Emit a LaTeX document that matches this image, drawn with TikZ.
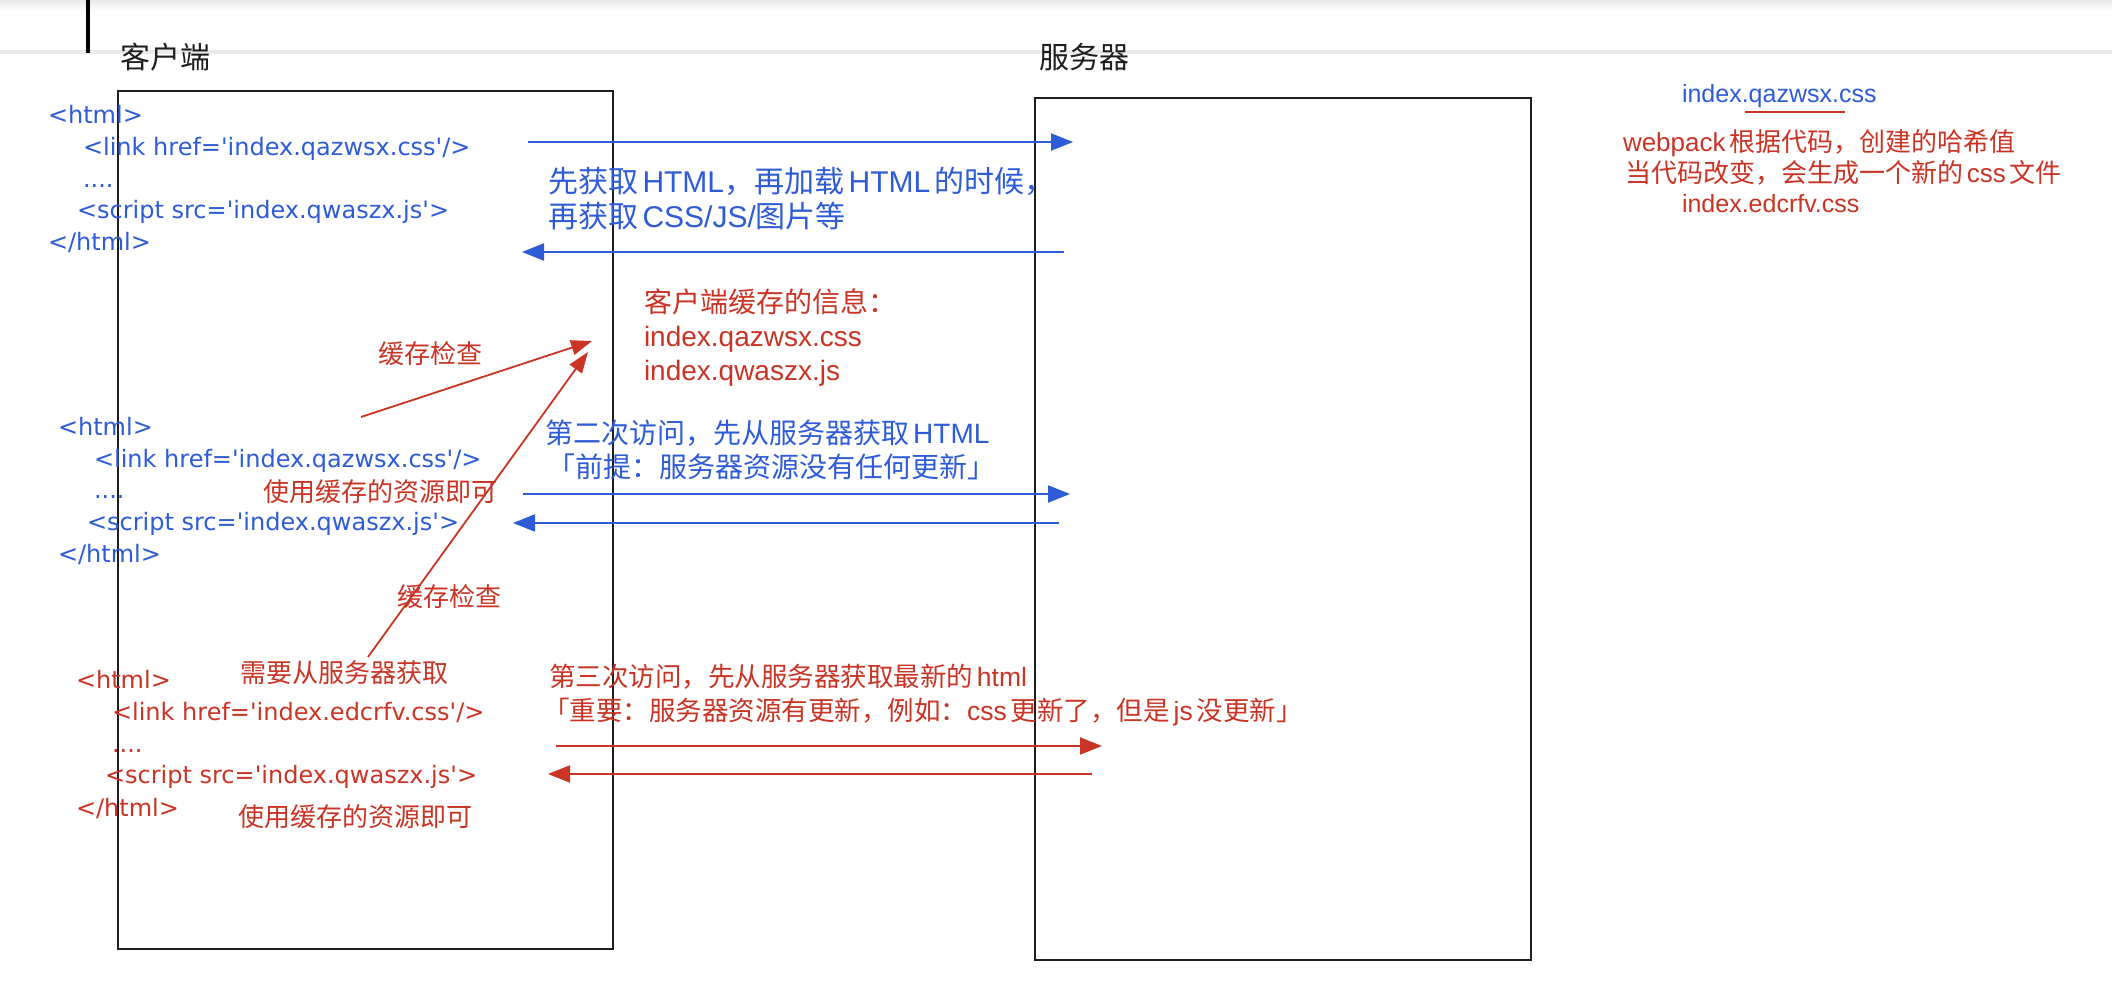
\documentclass[tikz,border=0pt]{standalone}
\usepackage{fontspec}
\setmainfont{Liberation Sans}
\newfontfamily\cjkfont{Noto Sans CJK SC}
\newfontfamily\codefont{DejaVu Sans}
\usetikzlibrary{arrows.meta}

\definecolor{ink}{RGB}{30,30,30}
\definecolor{netblue}{RGB}{46,92,214}
\definecolor{hashred}{RGB}{201,52,36}
\definecolor{rulegray}{RGB}{234,234,234}

\newcommand\zhs[1]{{\cjkfont #1}}
\newcommand\setfs[1]{\fontsize{#1bp}{#1bp}\selectfont}
\newcommand\jg{\hspace{0.15em}}

\begin{document}
\begin{tikzpicture}[x=1bp,y=-1bp,
  txt/.style={anchor=base west, inner sep=0pt, outer sep=0pt},
  title/.style={txt, text=ink, font=\cjkfont\setfs{30}},
  bluecode/.style={txt, text=netblue, font=\codefont\setfs{24}},
  redcode/.style={txt, text=hashred, font=\codefont\setfs{24}},
  panel/.style={draw=ink, line width=2bp, anchor=north west, inner sep=0pt},
  bluearrow/.style={draw=netblue, line width=2bp, -{Triangle[length=22bp,width=17bp]}},
  redarrow/.style={draw=hashred, line width=2bp, -{Triangle[length=22bp,width=17bp]}},
  checkarrow/.style={draw=hashred, line width=1.8bp, -{Triangle[length=21bp,width=15bp]}},
]
\useasboundingbox (0,0) rectangle (2112,982);
\fill[white] (0,0) rectangle (2112,982);

% window chrome along the top
\shade[top color=black!9, bottom color=white] (0,0) rectangle (2112,10);
\draw[rulegray, line width=3.5bp] (0,52) -- (2112,52);
\draw[black, line width=3.5bp] (88,0) -- (88,53);

% the two columns
\node[panel, minimum width=495bp, minimum height=858bp] (client) at (117,90) {};
\node[panel, minimum width=496bp, minimum height=862bp] (server) at (1034,97) {};
\node[title] (clientlbl) at (120,68) {客户端};
\node[title] (serverlbl) at (1039,68) {服务器};

% first visit
\node[bluecode] (h1a) at (48,123) {<html>};
\node[bluecode] (h1b) at (83,155) {<link href='index.qazwsx.css'/>};
\node[bluecode] (h1c) at (83,187) {....};
\node[bluecode] (h1d) at (77,218) {<script src='index.qwaszx.js'>};
\node[bluecode] (h1e) at (48,250) {</html>};

\coordinate (r1s) at (528,142);  \coordinate (r1e) at (1073,142);
\coordinate (l1s) at (1064,252); \coordinate (l1e) at (522,252);
\draw[bluearrow] (r1s) -- (r1e);
\draw[bluearrow] (l1s) -- (l1e);
\node[txt, text=netblue, font=\setfs{30}] (firstA) at (548,192)
  {\zhs{先获取}\jg HTML\zhs{，再加载}\jg HTML\jg\zhs{的时候，}};
\node[txt, text=netblue, font=\setfs{30}] (firstB) at (548,227)
  {\zhs{再获取}\jg CSS/JS/\zhs{图片等}};

% what the browser keeps
\node[txt, text=hashred, font=\cjkfont\setfs{28}] (cacheA) at (644,312) {客户端缓存的信息：};
\node[txt, text=hashred, font=\setfs{28}] (cacheB) at (644,346) {index.qazwsx.css};
\node[txt, text=hashred, font=\setfs{28}] (cacheC) at (644,380) {index.qwaszx.js};

% second visit
\node[bluecode] (h2a) at (58,435) {<html>};
\node[bluecode] (h2b) at (94,467) {<link href='index.qazwsx.css'/>};
\node[bluecode] (h2c) at (94,498) {....};
\node[bluecode] (h2d) at (87,530) {<script src='index.qwaszx.js'>};
\node[bluecode] (h2e) at (58,562) {</html>};

\node[txt, text=netblue, font=\setfs{28}] (secondA) at (545,443)
  {\zhs{第二次访问，先从服务器获取}\jg HTML};
\node[txt, text=netblue, font=\cjkfont\setfs{28}] (secondB) at (547,477)
  {「前提：服务器资源没有任何更新」};
\coordinate (r2s) at (523,494);  \coordinate (r2e) at (1070,494);
\coordinate (l2s) at (1059,523); \coordinate (l2e) at (513,523);
\draw[bluearrow] (r2s) -- (r2e);
\draw[bluearrow] (l2s) -- (l2e);

% cache checks
\coordinate (k1s) at (361,417); \coordinate (k1e) at (592,341);
\coordinate (k2s) at (368,657); \coordinate (k2e) at (588,352);
\draw[checkarrow] (k1s) -- (k1e);
\draw[checkarrow] (k2s) -- (k2e);
\node[txt, text=hashred, font=\cjkfont\setfs{26}] (chkA) at (378,363.5) {缓存检查};
\node[txt, text=hashred, font=\cjkfont\setfs{26}] (reuseA) at (263,501.5) {使用缓存的资源即可};
\node[txt, text=hashred, font=\cjkfont\setfs{26}] (chkB) at (397,606.5) {缓存检查};
\node[txt, text=hashred, font=\cjkfont\setfs{26}] (fetch) at (240,682.5) {需要从服务器获取};

% third visit
\node[redcode] (h3a) at (76,688) {<html>};
\node[redcode] (h3b) at (112,720) {<link href='index.edcrfv.css'/>};
\node[redcode] (h3c) at (112,752) {....};
\node[redcode] (h3d) at (105,783) {<script src='index.qwaszx.js'>};
\node[redcode] (h3e) at (76,816) {</html>};
\node[txt, text=hashred, font=\cjkfont\setfs{26}] (reuseB) at (238,826.5) {使用缓存的资源即可};

\node[txt, text=hashred, font=\setfs{26.5}] (thirdA) at (549,686)
  {\zhs{第三次访问，先从服务器获取最新的}\jg html};
\node[txt, text=hashred, font=\setfs{26.5}] (thirdB) at (543,720)
  {\zhs{「重要：服务器资源有更新，例如：}css\jg\zhs{更新了，但是}\jg js\jg\zhs{没更新」}};
\coordinate (r3s) at (556,746);  \coordinate (r3e) at (1102,746);
\coordinate (l3s) at (1092,774); \coordinate (l3e) at (548,774);
\draw[redarrow] (r3s) -- (r3e);
\draw[redarrow] (l3s) -- (l3e);

% note on hashed file names
\node[txt, text=netblue, font=\setfs{25}] (hashA) at (1682,102) {index.qazwsx.css};
\coordinate (u1) at (1745,112); \coordinate (u2) at (1845,112);
\draw[hashred, line width=2bp] (u1) -- (u2);
\node[txt, text=hashred, font=\setfs{26}] (hashB) at (1623,151)
  {webpack\jg\zhs{根据代码，创建的哈希值}};
\node[txt, text=hashred, font=\setfs{26}] (hashC) at (1625,182.5)
  {\zhs{当代码改变，会生成一个新的}\jg css\jg\zhs{文件}};
\node[txt, text=hashred, font=\setfs{25}] (hashD) at (1682,212) {index.edcrfv.css};
\end{tikzpicture}
\end{document}
